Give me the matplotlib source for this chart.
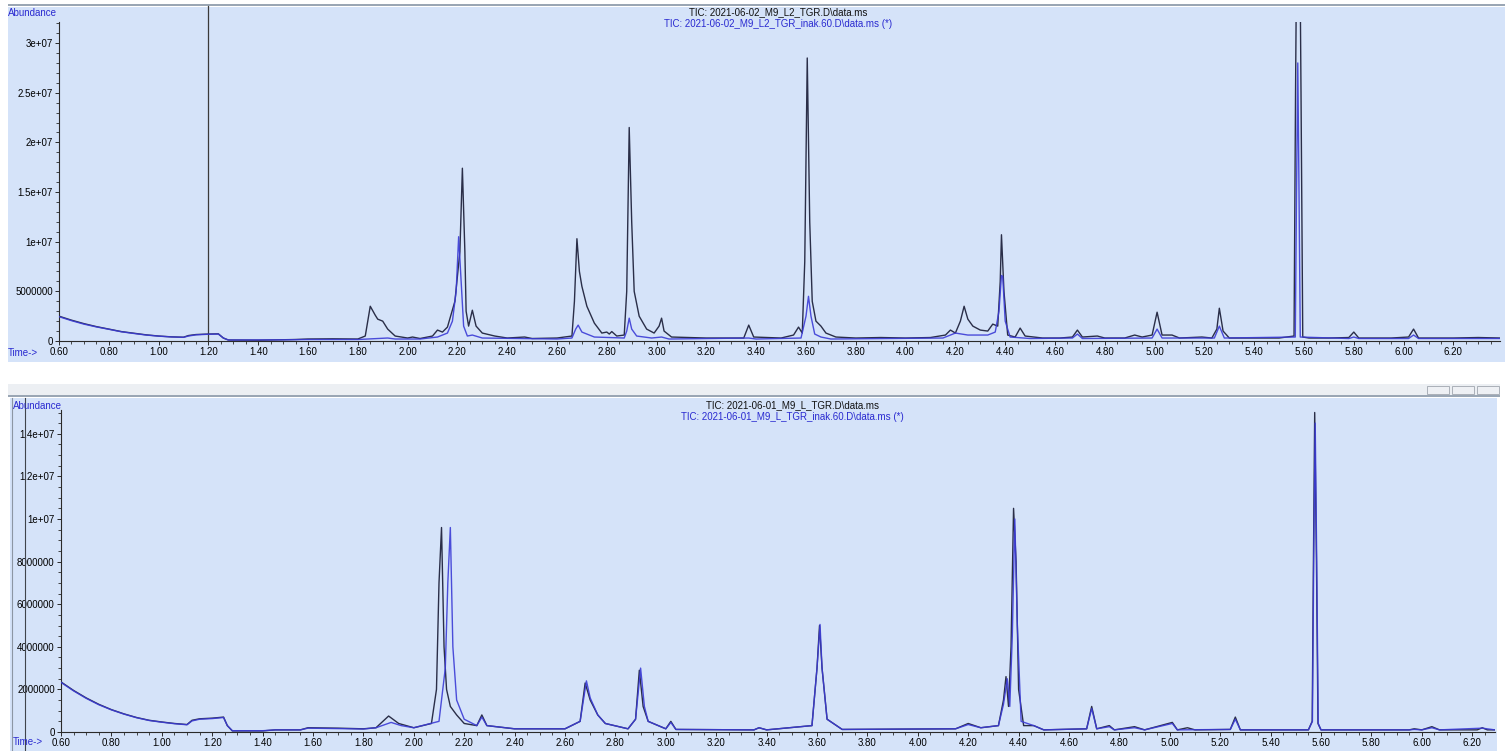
import matplotlib
matplotlib.use("Agg")
import matplotlib.pyplot as plt
from matplotlib.patches import Rectangle
from matplotlib.ticker import FixedLocator, MultipleLocator

# ---------------- DATA ----------------
top_title_black = r"TIC: 2021-06-02_M9_L2_TGR.D\data.ms"
top_title_blue = r"TIC: 2021-06-02_M9_L2_TGR_inak.60.D\data.ms (*)"
bot_title_black = r"TIC: 2021-06-01_M9_L_TGR.D\data.ms"
bot_title_blue = r"TIC: 2021-06-01_M9_L_TGR_inak.60.D\data.ms (*)"

x_ticks = [0.6, 0.8, 1.0, 1.2, 1.4, 1.6, 1.8, 2.0, 2.2, 2.4, 2.6, 2.8, 3.0, 3.2,
           3.4, 3.6, 3.8, 4.0, 4.2, 4.4, 4.6, 4.8, 5.0, 5.2, 5.4, 5.6, 5.8, 6.0, 6.2]
x_tick_labels = ["%.2f" % v for v in x_ticks]

top_y_ticks = [0, 5e6, 1e7, 1.5e7, 2e7, 2.5e7, 3e7]
top_y_labels = ["0", "5000000", "1e+07", "1.5e+07", "2e+07", "2.5e+07", "3e+07"]
bot_y_ticks = [0, 2e6, 4e6, 6e6, 8e6, 1e7, 1.2e7, 1.4e7]
bot_y_labels = ["0", "2000000", "4000000", "6000000", "8000000", "1e+07", "1.2e+07", "1.4e+07"]

cursor_time = 1.20

# top panel, black trace (time in min, abundance)
top_black_t = [0.60, 0.65, 0.70, 0.75, 0.80, 0.85, 0.90, 0.95, 1.00, 1.05, 1.10, 1.12, 1.15, 1.20, 1.24,
               1.26, 1.28, 1.40, 1.55, 1.60, 1.70, 1.80, 1.83, 1.85, 1.87, 1.88, 1.90, 1.92, 1.95,
               2.00, 2.02, 2.05, 2.10, 2.12, 2.14, 2.16, 2.19, 2.21, 2.22, 2.23, 2.235, 2.245, 2.26,
               2.275, 2.30, 2.35, 2.40, 2.47, 2.50, 2.60, 2.66, 2.67, 2.68, 2.69, 2.70, 2.72, 2.75,
               2.78, 2.80, 2.81, 2.82, 2.84, 2.87, 2.88, 2.89, 2.90, 2.91, 2.93, 2.96, 2.99, 3.01,
               3.02, 3.03, 3.06, 3.20, 3.35, 3.37, 3.39, 3.50, 3.55, 3.57, 3.585, 3.595, 3.605, 3.615,
               3.625, 3.64, 3.66, 3.68, 3.72, 3.80, 3.90, 4.00, 4.10, 4.16, 4.18, 4.20, 4.22, 4.235,
               4.25, 4.27, 4.30, 4.33, 4.35, 4.37, 4.38, 4.385, 4.395, 4.41, 4.44, 4.46, 4.48, 4.55,
               4.62, 4.67, 4.69, 4.71, 4.77, 4.80, 4.88, 4.92, 4.95, 4.99, 5.01, 5.03, 5.07, 5.10,
               5.19, 5.23, 5.25, 5.26, 5.275, 5.30, 5.50, 5.56, 5.566, 5.570, 5.584, 5.588, 5.595,
               5.62, 5.70, 5.78, 5.80, 5.82, 5.95, 6.02, 6.04, 6.06, 6.20, 6.30, 6.39]
top_black_y = [2.5e6, 2.1e6, 1.75e6, 1.45e6, 1.2e6, 0.95e6, 0.78e6, 0.62e6, 0.5e6, 0.42e6, 0.38e6, 0.55e6, 0.65e6, 0.7e6, 0.72e6,
               0.3e6, 0.1e6, 0.08e6, 0.15e6, 0.2e6, 0.22e6, 0.2e6, 0.5e6, 3.5e6, 2.6e6, 2.2e6, 2.0e6, 1.2e6, 0.5e6,
               0.3e6, 0.4e6, 0.25e6, 0.5e6, 1.1e6, 0.9e6, 1.4e6, 4.0e6, 9.0e6, 1.74e7, 9.0e6, 3.0e6, 1.5e6, 3.1e6,
               1.5e6, 0.8e6, 0.5e6, 0.3e6, 0.4e6, 0.25e6, 0.3e6, 0.5e6, 4.0e6, 1.03e7, 7.0e6, 5.5e6, 3.5e6, 1.8e6,
               0.8e6, 0.9e6, 0.7e6, 0.95e6, 0.5e6, 0.6e6, 5.0e6, 2.15e7, 1.2e7, 5.0e6, 2.5e6, 1.2e6, 0.8e6, 1.5e6,
               2.3e6, 1.0e6, 0.4e6, 0.3e6, 0.3e6, 1.6e6, 0.4e6, 0.3e6, 0.6e6, 1.4e6, 0.8e6, 8.0e6, 2.85e7, 1.2e7,
               4.0e6, 2.0e6, 1.5e6, 0.8e6, 0.4e6, 0.3e6, 0.35e6, 0.3e6, 0.35e6, 0.6e6, 1.1e6, 0.8e6, 2.0e6, 3.5e6,
               2.2e6, 1.5e6, 1.1e6, 1.0e6, 1.7e6, 1.5e6, 6.0e6, 1.07e7, 5.0e6, 0.6e6, 0.4e6, 1.3e6, 0.5e6, 0.3e6,
               0.3e6, 0.4e6, 1.1e6, 0.4e6, 0.5e6, 0.3e6, 0.3e6, 0.6e6, 0.4e6, 0.6e6, 2.9e6, 0.6e6, 0.6e6, 0.3e6,
               0.4e6, 0.3e6, 1.2e6, 3.3e6, 1.0e6, 0.3e6, 0.3e6, 0.5e6, 2.5e7, 3.8e7, 3.8e7, 2.5e7, 0.4e6,
               0.3e6, 0.3e6, 0.35e6, 0.9e6, 0.3e6, 0.3e6, 0.4e6, 1.2e6, 0.3e6, 0.3e6, 0.35e6, 0.3e6]

# top panel, blue trace
top_blue_t = [0.60, 0.65, 0.70, 0.75, 0.80, 0.85, 0.90, 0.95, 1.00, 1.05, 1.10, 1.12, 1.15, 1.20, 1.24,
              1.26, 1.28, 1.50, 1.60, 1.80, 1.88, 1.92, 1.95, 2.05, 2.12, 2.16, 2.18, 2.195, 2.205,
              2.215, 2.225, 2.24, 2.26, 2.30, 2.60, 2.66, 2.675, 2.685, 2.70, 2.75, 2.87, 2.88, 2.89,
              2.90, 2.92, 2.98, 3.02, 3.05, 3.37, 3.40, 3.58, 3.60, 3.61, 3.62, 3.635, 3.66, 3.70,
              4.15, 4.20, 4.25, 4.33, 4.36, 4.375, 4.385, 4.39, 4.40, 4.42, 4.50, 4.67, 4.69, 4.71,
              4.99, 5.01, 5.03, 5.24, 5.26, 5.28, 5.565, 5.570, 5.575, 5.580, 5.585, 5.78, 5.80,
              5.82, 6.02, 6.04, 6.06, 6.39]
top_blue_y = [2.45e6, 2.05e6, 1.7e6, 1.42e6, 1.18e6, 0.93e6, 0.76e6, 0.6e6, 0.49e6, 0.41e6, 0.37e6, 0.5e6, 0.62e6, 0.68e6, 0.7e6,
              0.3e6, 0.1e6, 0.12e6, 0.15e6, 0.15e6, 0.25e6, 0.3e6, 0.2e6, 0.2e6, 0.4e6, 0.8e6, 2.0e6, 5.0e6, 1.05e7,
              6.0e6, 1.5e6, 0.5e6, 0.6e6, 0.3e6, 0.2e6, 0.3e6, 1.2e6, 1.6e6, 0.9e6, 0.4e6, 0.3e6, 1.0e6, 2.3e6,
              1.2e6, 0.5e6, 0.3e6, 0.4e6, 0.2e6, 0.3e6, 0.2e6, 0.3e6, 2.5e6, 4.5e6, 2.5e6, 0.7e6, 0.4e6, 0.2e6,
              0.3e6, 0.8e6, 0.6e6, 0.6e6, 0.9e6, 3.0e6, 6.6e6, 6.5e6, 2.0e6, 0.4e6, 0.25e6, 0.3e6, 0.7e6, 0.25e6,
              0.3e6, 1.2e6, 0.3e6, 0.3e6, 1.5e6, 0.3e6, 0.4e6, 1.5e7, 2.8e7, 1.5e7, 0.4e6, 0.25e6, 0.4e6,
              0.25e6, 0.25e6, 0.6e6, 0.25e6, 0.25e6]

# bottom panel, black trace
bot_black_t = [0.60, 0.65, 0.70, 0.75, 0.80, 0.85, 0.90, 0.95, 1.00, 1.05, 1.10, 1.12, 1.15, 1.20, 1.245,
               1.26, 1.28, 1.40, 1.45, 1.55, 1.58, 1.70, 1.80, 1.85, 1.90, 1.94, 2.00, 2.07, 2.09,
               2.10, 2.11, 2.12, 2.13, 2.145, 2.17, 2.20, 2.25, 2.27, 2.29, 2.40, 2.60, 2.66, 2.68,
               2.70, 2.73, 2.76, 2.85, 2.88, 2.895, 2.91, 2.93, 3.00, 3.02, 3.04, 3.35, 3.37, 3.40,
               3.58, 3.60, 3.61, 3.62, 3.64, 3.70, 4.15, 4.20, 4.25, 4.32, 4.34, 4.35, 4.36, 4.37,
               4.38, 4.39, 4.40, 4.42, 4.46, 4.50, 4.67, 4.69, 4.71, 4.76, 4.78, 4.86, 4.90, 5.01,
               5.03, 5.07, 5.10, 5.24, 5.26, 5.28, 5.55, 5.565, 5.570, 5.575, 5.582, 5.588, 5.60,
               5.95, 5.97, 6.00, 6.04, 6.07, 6.22, 6.24, 6.26, 6.29]
bot_black_y = [2.35e6, 1.95e6, 1.6e6, 1.3e6, 1.05e6, 0.85e6, 0.68e6, 0.55e6, 0.47e6, 0.4e6, 0.35e6, 0.55e6, 0.62e6, 0.65e6, 0.7e6,
               0.3e6, 0.05e6, 0.05e6, 0.1e6, 0.1e6, 0.2e6, 0.18e6, 0.15e6, 0.2e6, 0.75e6, 0.4e6, 0.2e6, 0.4e6, 2.0e6,
               7.0e6, 9.6e6, 4.0e6, 2.0e6, 1.2e6, 0.8e6, 0.4e6, 0.3e6, 0.8e6, 0.3e6, 0.15e6, 0.15e6, 0.5e6, 2.3e6,
               1.5e6, 0.8e6, 0.4e6, 0.15e6, 0.6e6, 2.9e6, 1.2e6, 0.5e6, 0.15e6, 0.5e6, 0.12e6, 0.1e6, 0.2e6, 0.1e6,
               0.3e6, 3.0e6, 5.0e6, 3.0e6, 0.6e6, 0.12e6, 0.15e6, 0.4e6, 0.2e6, 0.3e6, 1.5e6, 2.6e6, 1.2e6, 4.0e6,
               1.05e7, 8.0e6, 2.0e6, 0.3e6, 0.3e6, 0.1e6, 0.15e6, 1.2e6, 0.15e6, 0.3e6, 0.1e6, 0.25e6, 0.1e6, 0.45e6,
               0.1e6, 0.2e6, 0.1e6, 0.12e6, 0.7e6, 0.1e6, 0.1e6, 0.5e6, 8.0e6, 1.5e7, 8.0e6, 0.4e6, 0.1e6,
               0.1e6, 0.15e6, 0.1e6, 0.25e6, 0.1e6, 0.1e6, 0.2e6, 0.1e6, 0.1e6]

# bottom panel, blue trace
bot_blue_t = [0.60, 0.65, 0.70, 0.75, 0.80, 0.85, 0.90, 0.95, 1.00, 1.05, 1.10, 1.12, 1.15, 1.20, 1.245,
              1.26, 1.28, 1.40, 1.45, 1.55, 1.58, 1.70, 1.80, 1.85, 1.91, 1.95, 2.00, 2.10, 2.125,
              2.135, 2.145, 2.155, 2.17, 2.20, 2.25, 2.27, 2.29, 2.40, 2.60, 2.66, 2.685, 2.70, 2.73,
              2.76, 2.85, 2.88, 2.90, 2.915, 2.93, 3.00, 3.02, 3.04, 3.35, 3.37, 3.40, 3.58, 3.60,
              3.612, 3.62, 3.64, 3.70, 4.15, 4.20, 4.25, 4.32, 4.34, 4.355, 4.365, 4.375, 4.385, 4.395,
              4.41, 4.46, 4.50, 4.67, 4.69, 4.71, 4.76, 4.78, 4.86, 4.90, 5.01, 5.03, 5.24, 5.26,
              5.28, 5.55, 5.566, 5.571, 5.577, 5.583, 5.589, 5.60, 5.95, 5.97, 6.00, 6.04, 6.07,
              6.24, 6.29]
bot_blue_y = [2.33e6, 1.93e6, 1.58e6, 1.28e6, 1.04e6, 0.84e6, 0.67e6, 0.54e6, 0.46e6, 0.39e6, 0.34e6, 0.52e6, 0.6e6, 0.63e6, 0.68e6,
              0.3e6, 0.06e6, 0.06e6, 0.1e6, 0.1e6, 0.18e6, 0.16e6, 0.14e6, 0.2e6, 0.45e6, 0.3e6, 0.2e6, 0.5e6, 3.0e6,
              7.0e6, 9.6e6, 4.0e6, 1.5e6, 0.6e6, 0.3e6, 0.7e6, 0.3e6, 0.15e6, 0.15e6, 0.5e6, 2.4e6, 1.6e6, 0.8e6,
              0.4e6, 0.15e6, 0.6e6, 3.0e6, 1.2e6, 0.5e6, 0.15e6, 0.45e6, 0.12e6, 0.1e6, 0.2e6, 0.1e6, 0.3e6, 3.0e6,
              5.05e6, 3.0e6, 0.6e6, 0.12e6, 0.15e6, 0.35e6, 0.2e6, 0.3e6, 1.3e6, 2.5e6, 1.2e6, 4.5e6, 1.0e7, 5.0e6,
              0.5e6, 0.3e6, 0.1e6, 0.15e6, 1.1e6, 0.15e6, 0.25e6, 0.1e6, 0.2e6, 0.1e6, 0.4e6, 0.1e6, 0.12e6, 0.6e6,
              0.1e6, 0.1e6, 0.5e6, 8.0e6, 1.45e7, 8.0e6, 0.4e6, 0.1e6, 0.1e6, 0.12e6, 0.1e6, 0.2e6, 0.1e6,
              0.18e6, 0.1e6]

# ---------------- STYLE / LAYOUT ----------------
W, H = 1511, 751
BG = "#D5E3F9"
BLACK_TRACE = "#2a2e48"
BLUE_TRACE = "#3b3bd6"
LABEL_BLUE = "#2a2ad0"
FONT = "Liberation Sans"
FS = 7.0

fig = plt.figure(figsize=(W / 100, H / 100), dpi=100)
fig.patch.set_facecolor("white")


def rect(x0, y0, x1, y1):
    return [x0 / W, 1 - y1 / H, (x1 - x0) / W, (y1 - y0) / H]


def fx(x):
    return x / W


def fy(y):
    return 1 - y / H


# panel backgrounds
fig.add_artist(Rectangle((fx(8), fy(362)), (1505 - 8) / W, (362 - 7) / H,
                         facecolor=BG, edgecolor="none", transform=fig.transFigure, zorder=0))
fig.add_artist(Rectangle((fx(8), fy(6)), (1505 - 8) / W, 2 / H,
                         facecolor="#9aa6b4", edgecolor="none", transform=fig.transFigure, zorder=0))
# bottom window: header strip and body
fig.add_artist(Rectangle((fx(8), fy(396)), (1500 - 8) / W, (396 - 384) / H,
                         facecolor="#eceff3", edgecolor="none", transform=fig.transFigure, zorder=0))
fig.add_artist(Rectangle((fx(8), fy(397)), (1500 - 8) / W, 2 / H,
                         facecolor="#9aa6b4", edgecolor="none", transform=fig.transFigure, zorder=0))
fig.add_artist(Rectangle((fx(10), fy(751)), (1497 - 10) / W, (751 - 398) / H,
                         facecolor=BG, edgecolor="none", transform=fig.transFigure, zorder=0))
for bx in (1427, 1452, 1477):
    fig.add_artist(Rectangle((fx(bx), fy(394)), 22 / W, 8 / H, facecolor="#eef0f4",
                             edgecolor="#a0a6ae", lw=0.6, transform=fig.transFigure, zorder=1))
# left border lines of bottom window
fig.add_artist(plt.Line2D([fx(12), fx(12)], [fy(398), fy(751)], color="#8c96a4", lw=0.8,
                          transform=fig.transFigure))
fig.add_artist(plt.Line2D([fx(25), fx(25)], [fy(398), fy(751)], color="#40444c", lw=0.8,
                          transform=fig.transFigure))


def style_axes(ax, yticks, ylabels):
    ax.set_facecolor("none")
    for s in ("top", "right"):
        ax.spines[s].set_visible(False)
    for s in ("left", "bottom"):
        ax.spines[s].set_color("#2a2a2a")
        ax.spines[s].set_linewidth(0.8)
    ax.xaxis.set_major_locator(FixedLocator(x_ticks))
    ax.set_xticklabels(x_tick_labels, fontfamily=FONT, fontsize=FS)
    ax.xaxis.set_minor_locator(MultipleLocator(0.05))
    ax.yaxis.set_major_locator(FixedLocator(yticks))
    ax.set_yticklabels(ylabels, fontfamily=FONT, fontsize=FS)
    ax.tick_params(axis="both", which="major", length=3, width=0.7, color="#2a2a2a", pad=1.5)
    ax.tick_params(axis="both", which="minor", length=2, width=0.6, color="#2a2a2a")


# ---------------- TOP PANEL ----------------
ax1 = fig.add_axes(rect(59, 22, 1500, 341))
ax1.plot(top_black_t, top_black_y, color=BLACK_TRACE, lw=1.0, zorder=3)
ax1.plot(top_blue_t, top_blue_y, color=BLUE_TRACE, lw=1.0, alpha=0.9, zorder=4)
ax1.set_xlim(0.6, 0.6 + (1500 - 59) / 249.0)
ax1.set_ylim(0, (341 - 22) / 99.3 * 1e7)
style_axes(ax1, top_y_ticks, top_y_labels)
ax1.yaxis.set_minor_locator(MultipleLocator(1e6))
# cursor line at 1.20 spanning the panel
ax1.plot([cursor_time, cursor_time], [0.0, 1.05], color="#3a3a3a", lw=0.9,
         transform=ax1.get_xaxis_transform(), clip_on=False, zorder=2)

fig.text(fx(8), fy(13), "Abundance", color=LABEL_BLUE, fontsize=FS, fontfamily=FONT, va="center")
fig.text(fx(8), fy(353), "Time->", color=LABEL_BLUE, fontsize=FS, fontfamily=FONT, va="center")
fig.text(fx(778), fy(12), top_title_black, color="#111111", fontsize=FS, fontfamily=FONT,
         ha="center", va="center")
fig.text(fx(778), fy(24), top_title_blue, color=LABEL_BLUE, fontsize=FS, fontfamily=FONT,
         ha="center", va="center")

# ---------------- BOTTOM PANEL ----------------
ax2 = fig.add_axes(rect(61, 410, 1495, 732))
ax2.plot(bot_black_t, bot_black_y, color=BLACK_TRACE, lw=1.0, zorder=3)
ax2.plot(bot_blue_t, bot_blue_y, color=BLUE_TRACE, lw=1.0, alpha=0.9, zorder=4)
ax2.set_xlim(0.6, 0.6 + (1495 - 61) / 252.0)
ax2.set_ylim(0, (732 - 410) / 21.3 * 1e6)
style_axes(ax2, bot_y_ticks, bot_y_labels)
ax2.yaxis.set_minor_locator(MultipleLocator(5e5))

fig.text(fx(13), fy(406), "Abundance", color=LABEL_BLUE, fontsize=FS, fontfamily=FONT, va="center")
fig.text(fx(13), fy(742), "Time->", color=LABEL_BLUE, fontsize=FS, fontfamily=FONT, va="center")
fig.text(fx(792), fy(405), bot_title_black, color="#111111", fontsize=FS, fontfamily=FONT,
         ha="center", va="center")
fig.text(fx(792), fy(417), bot_title_blue, color=LABEL_BLUE, fontsize=FS, fontfamily=FONT,
         ha="center", va="center")

fig.savefig("out.png", dpi=100, facecolor="white")
